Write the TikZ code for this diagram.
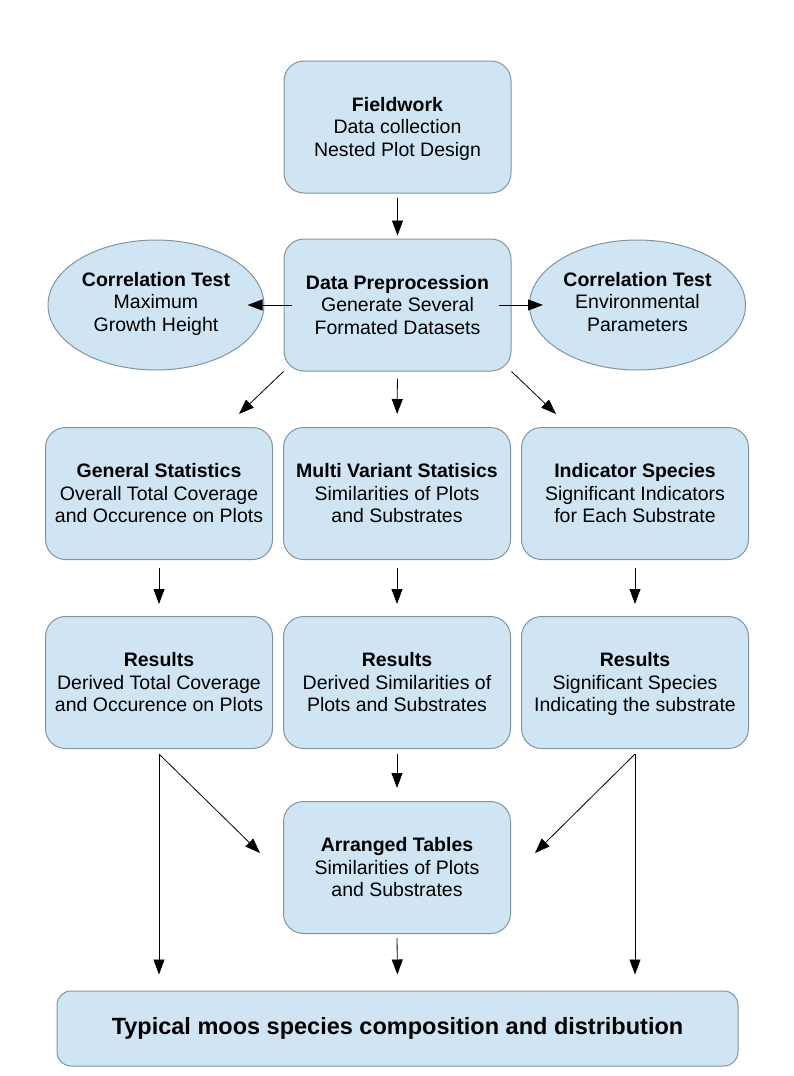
\documentclass[tikz,border=0pt]{standalone}
\usepackage{fontspec}
\setmainfont{Liberation Sans}
\usetikzlibrary{shapes.geometric,arrows.meta}

\definecolor{boxfill}{RGB}{207,229,243}
\definecolor{boxline}{RGB}{130,148,162}

\newcommand{\stagetitle}[1]{\rule{0pt}{20pt}\textbf{#1}}

\tikzset{
    stage/.style={draw=boxline, fill=boxfill, line width=1pt, rounded corners=20pt,
        minimum width=227pt, minimum height=132pt, align=center, inner sep=0pt,
        font=\fontsize{19.5}{22.5}\selectfont},
    testbox/.style={ellipse, draw=boxline, fill=boxfill, line width=1pt,
        minimum width=216pt, minimum height=130pt, align=center, inner sep=0pt,
        font=\fontsize{19.5}{22.5}\selectfont},
    flow/.style={-{Triangle[length=15pt,width=11pt]}, line width=0.8pt}
}

\begin{document}
\begin{tikzpicture}[x=1pt, y=-1pt]
            \useasboundingbox (0, 0) rectangle (794, 1076);

            \node[stage] (fw) at (397.5, 127) {\stagetitle{Fieldwork}\\Data collection\\Nested Plot Design\strut};
            \node[stage] (dp) at (397.5, 305) {\stagetitle{Data Preprocession}\\Generate Several\\Formated Datasets\strut};
            \node[testbox] (ctl) at (156, 305) {\textbf{Correlation Test}\\Maximum\\Growth Height\strut};
            \node[testbox] (ctr) at (637.5, 305) {\textbf{Correlation Test}\\Environmental\\Parameters\strut};

            \node[stage] (gs) at (159, 493.5) {\stagetitle{General Statistics}\\Overall Total Coverage\\and Occurence on Plots\strut};
            \node[stage] (mv) at (397, 493.5) {\stagetitle{Multi Variant Statisics}\\Similarities of Plots\\and Substrates\strut};
            \node[stage] (is) at (635, 493.5) {\stagetitle{Indicator Species}\\Significant Indicators\\for Each Substrate\strut};

            \node[stage] (rg) at (159, 682.5) {\stagetitle{Results}\\Derived Total Coverage\\and Occurence on Plots\strut};
            \node[stage] (rm) at (397, 682.5) {\stagetitle{Results}\\Derived Similarities of\\Plots and Substrates\strut};
            \node[stage] (ri) at (635, 682.5) {\stagetitle{Results}\\Significant Species\\Indicating the substrate\strut};

            \node[stage] (at) at (397, 867.5) {\stagetitle{Arranged Tables}\\Similarities of Plots\\and Substrates\strut};

            \node[stage, minimum width=681pt, minimum height=75pt, rounded corners=14pt,
                font=\fontsize{23.5}{27}\selectfont\bfseries] (bt) at (397.5, 1028.5)
                {Typical moos species composition and distribution};

            \draw[flow, shorten <=4pt, shorten >=3pt] (fw.south) -- (dp.north);
            \draw[flow] ([xshift=8pt]dp.west) -- ([xshift=-17pt]ctl.east);
            \draw[flow] ([xshift=-13pt]dp.east) -- ([xshift=14pt]ctr.west);
            \draw[flow] (dp.south west) -- ([xshift=80pt, yshift=13pt]gs.north);
            \draw[flow, shorten <=7pt, shorten >=13pt] (dp.south) -- (mv.north);
            \draw[flow] (dp.south east) -- ([xshift=-79pt, yshift=13pt]is.north);

            \draw[flow, shorten <=8pt, shorten >=12pt] (gs.south) -- (rg.north);
            \draw[flow, shorten <=8pt, shorten >=12pt] (mv.south) -- (rm.north);
            \draw[flow, shorten <=8pt, shorten >=12pt] (is.south) -- (ri.north);

            \draw[flow, shorten <=5pt, shorten >=16pt] (rg.south) -- (rg.south |- bt.north);
            \draw[flow, shorten <=5pt, shorten >=16pt] (ri.south) -- (ri.south |- bt.north);
            \draw[flow] ([yshift=-5pt]rg.south) -- ([xshift=-23pt, yshift=14.5pt]at.west);
            \draw[flow] ([yshift=-5pt]ri.south) -- ([xshift=24pt, yshift=14.5pt]at.east);
            \draw[flow, shorten <=5pt, shorten >=13pt] (rm.south) -- (at.north);
            \draw[flow, shorten <=4pt, shorten >=16pt] (at.south) -- (bt.north);
        \end{tikzpicture}
\end{document}
